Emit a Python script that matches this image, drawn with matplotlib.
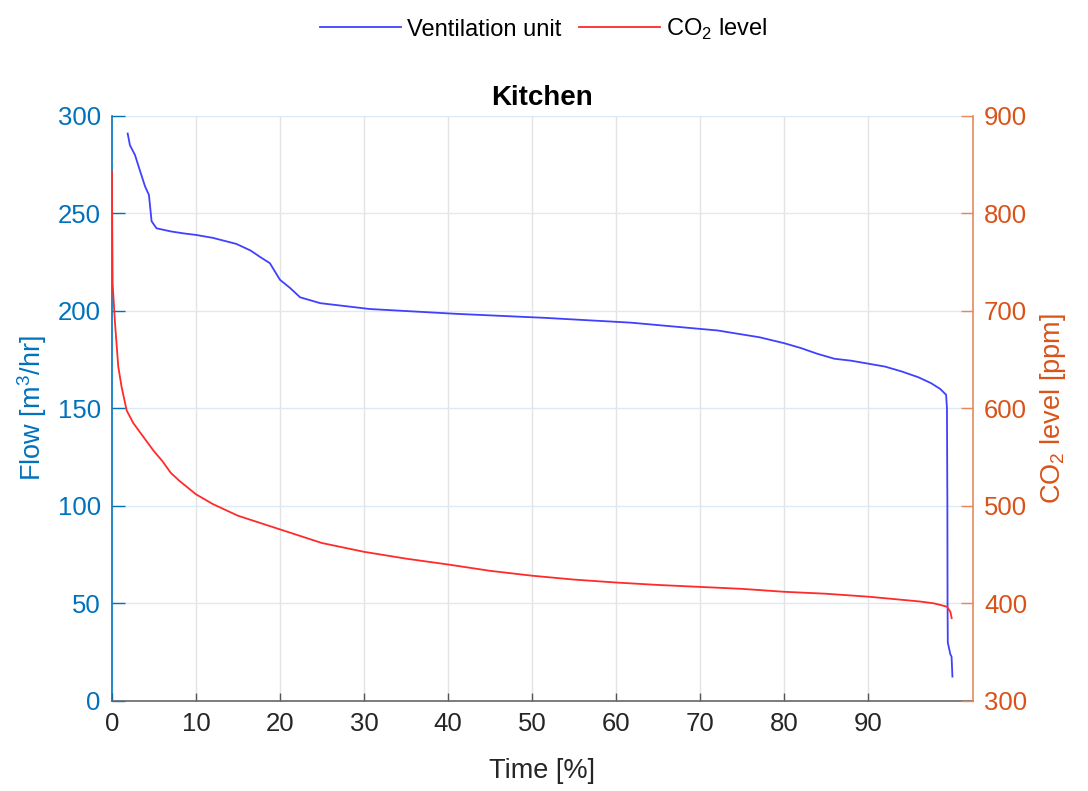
import matplotlib
matplotlib.use("Agg")
import matplotlib.pyplot as plt
import numpy as np

plt.rcParams['font.family'] = ['Liberation Sans', 'DejaVu Sans']
plt.rcParams['mathtext.fontset'] = 'custom'
plt.rcParams['mathtext.rm'] = 'Liberation Sans'

# Ventilation unit flow [m3/hr] vs time [%]
flow_time = [1.87, 2.14, 2.74, 3.33, 3.93, 4.4, 4.72, 5.3, 7, 8.5, 10, 12, 14.8, 16.5, 17.6, 18.8,
             20, 21.2, 22.4, 24.8, 30.7, 41.1, 51.4, 61.8, 72.1, 77.1, 80, 82, 84, 86, 88, 90, 92, 94,
             96, 97.5, 98.6, 99.3, 99.4, 99.45, 99.47, 99.5, 99.8, 99.95, 100.05]
flow_vals = [291, 285, 280, 272, 264, 259.5, 246, 242.4, 240.8, 239.8, 239, 237.5, 234.4, 231, 227.8, 224.5,
             216, 211.8, 207, 204, 201, 198.5, 196.5, 194, 190, 186.5, 183.5, 181, 178, 175.5, 174.5, 173, 171.5, 169,
             166, 163, 160, 157, 150, 100, 50, 30, 24, 22.7, 12.5]

# CO2 level [ppm] vs time [%]
co2_time = [0, 0.02, 0.08, 0.36, 0.75, 1.15, 1.75, 2.54, 3.73, 4.92, 6, 7, 8, 10, 12, 15, 20, 25, 30,
            35, 40, 45, 50, 55, 60, 65, 70, 75, 80, 85, 90, 95, 96.2, 97.8, 98.6, 99.4, 99.8, 99.96]
co2_vals = [843, 803, 728, 688, 643, 622, 598, 585, 571, 557, 546, 534, 526, 512, 502, 490, 476, 462, 453,
            446, 440, 433.5, 428.5, 424.5, 421.5, 419, 417, 415, 412, 410, 407, 403, 402, 400.2, 398.5, 396.7, 391.6, 385]

xticks = list(range(0, 100, 10))
left_ticks = [0, 50, 100, 150, 200, 250, 300]
right_ticks = [300, 400, 500, 600, 700, 800, 900]

blue_ax = '#0072BD'
orange_ax = '#D95319'

fig = plt.figure(figsize=(10.88, 7.91), dpi=100)
ax = fig.add_axes([0.1029, 0.1138, 0.7914, 0.7396])
ax2 = ax.twinx()

l1, = ax.plot(flow_time, flow_vals, color='#4040FF', lw=1.3, label='Ventilation unit')
l2, = ax2.plot(co2_time, co2_vals, color='#FF2A2A', lw=1.3, label='CO$_2$ level')

ax.set_xlim(0, 102.5)
ax.set_ylim(0, 300)
ax2.set_ylim(300, 900)
ax.set_xticks(xticks)
ax.set_yticks(left_ticks)
ax2.set_yticks(right_ticks)

# grid
for t in xticks[1:]:
    ax.axvline(t, color='#e3e3e3', lw=1, zorder=0)
for t in left_ticks[1:]:
    ax.axhline(t, color='#dde9f3', lw=1, zorder=0)

ax.spines['top'].set_visible(False)
ax2.spines['top'].set_visible(False)
ax.spines['right'].set_visible(False)
ax2.spines['left'].set_visible(False)
ax2.spines['bottom'].set_visible(False)
ax.spines['left'].set_color(blue_ax)
ax2.spines['right'].set_color('#E8875A')
ax.spines['bottom'].set_color('#666666')
for s in ['left', 'bottom']:
    ax.spines[s].set_linewidth(1.2)
ax2.spines['right'].set_linewidth(1.2)

ax.tick_params(axis='y', colors=blue_ax, direction='in', labelsize=18.5, length=9, width=1, pad=8)
ax.tick_params(axis='x', colors='#555555', labelcolor='#262626', direction='in', labelsize=18.5, length=6, width=1, pad=8)
ax2.tick_params(axis='y', colors='#E8875A', labelcolor=orange_ax, direction='in', labelsize=18.5, length=9, width=1, pad=8)

ax.set_xlabel('Time [%]', fontsize=19.5, color='#262626', labelpad=16)
ax.set_ylabel('Flow [m$^3$/hr]', fontsize=19.5, color=blue_ax, labelpad=6)
ax2.set_ylabel('CO$_2$ level [ppm]', fontsize=19.5, color=orange_ax, labelpad=8)
ax.set_title('Kitchen', fontsize=20, fontweight='bold', pad=8)

fig.legend([l1, l2], ['Ventilation unit', 'CO$_2$ level'], loc='upper center',
           bbox_to_anchor=(0.5, 1.006), ncol=2, frameon=False, fontsize=17,
           handlelength=3.4, columnspacing=0.75, handletextpad=0.28)

fig.savefig('out.png', dpi=100)
